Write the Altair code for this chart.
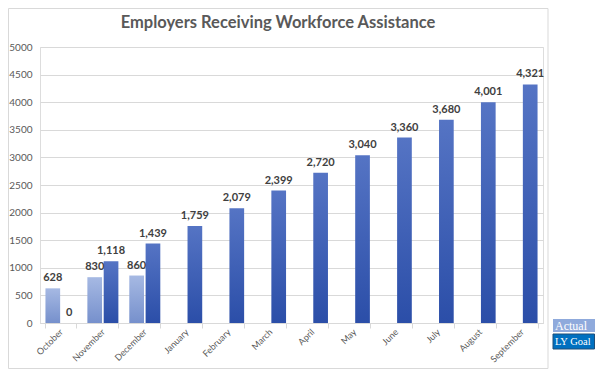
import altair as alt
import pandas as pd

months = ["October", "November", "December", "January", "February", "March",
          "April", "May", "June", "July", "August", "September"]
actual_months = ["October", "November", "December"]
actual_values = [628, 830, 860]
goal_values = [0, 1118, 1439, 1759, 2079, 2399, 2720, 3040, 3360, 3680, 4001, 4321]
series_names = ["Actual", "LY Goal"]
y_ticks = list(range(0, 5001, 500))
title_text = "Employers Receiving Workforce Assistance"

actual_df = pd.DataFrame({"month": actual_months, "value": actual_values, "series": "Actual"})
goal_df = pd.DataFrame({"month": months, "value": goal_values, "series": "LY Goal"})
one_df = pd.DataFrame({"k": [0]})

FONT = "Lato"
GRAY = "#595959"

x_enc = alt.X(
    "month:N", sort=months,
    scale=alt.Scale(domain=months, paddingInner=0.26, paddingOuter=0.13),
    axis=alt.Axis(title=None, labelAngle=-45, labelAlign="right", labelBaseline="middle",
                  labelFontSize=9, labelColor=GRAY, labelFont=FONT, labelPadding=2,
                  domainColor="#d9d9d9", tickColor="#d9d9d9", tickSize=5,
                  tickBand="extent", grid=False),
)
xo_enc = alt.XOffset("series:N", scale=alt.Scale(domain=series_names, paddingInner=0.1))
y_enc = alt.Y(
    "value:Q", scale=alt.Scale(domain=[0, 5000], nice=False),
    axis=alt.Axis(title=None, values=y_ticks, format="d", grid=True, gridColor="#d9d9d9",
                  domain=False, ticks=False, labelPadding=8, labelFontSize=10,
                  labelColor=GRAY, labelFont=FONT),
)

def grad(top, bottom):
    return alt.Gradient(gradient="linear",
                        stops=[alt.GradientStop(color=top, offset=0),
                               alt.GradientStop(color=bottom, offset=1)],
                        x1=0, x2=0, y1=0, y2=1)

border = alt.Chart(one_df).mark_rect(fill=None, stroke="#d9d9d9", strokeWidth=1).encode(
    x=alt.value(-31.5), x2=alt.value(508), y=alt.value(-38.5), y2=alt.value(321.5))

title = alt.Chart(pd.DataFrame({"t": [title_text]})).mark_text(
    font=FONT, fontSize=16.5, fontWeight="bold", color=GRAY, align="center",
    baseline="alphabetic").encode(x=alt.value(238), y=alt.value(-19), text="t:N")

actual_bars = alt.Chart(actual_df).mark_bar(color=grad("#a6b9e3", "#7690cc")).encode(
    x=x_enc, xOffset=xo_enc, y=y_enc)
goal_bars = alt.Chart(goal_df).mark_bar(color=grad("#5574c4", "#2b4ea8")).encode(
    x=x_enc, xOffset=xo_enc, y=y_enc)

lbl = dict(font=FONT, fontSize=11, fontWeight="bold", color="#404040",
           baseline="bottom", dy=-5)
actual_labels = alt.Chart(actual_df).mark_text(**lbl).encode(
    x=x_enc, xOffset=xo_enc, y=y_enc, text=alt.Text("value:Q", format=",d"))
goal_labels = alt.Chart(goal_df).mark_text(**lbl).encode(
    x=x_enc, xOffset=xo_enc, y=y_enc, text=alt.Text("value:Q", format=",d"))

leg_actual_box = alt.Chart(one_df).mark_rect(fill="#8faadc").encode(
    x=alt.value(513), x2=alt.value(555), y=alt.value(272), y2=alt.value(285))
leg_goal_box = alt.Chart(one_df).mark_rect(fill="#0070c0", stroke="#1f4e79", strokeWidth=1).encode(
    x=alt.value(513), x2=alt.value(554.5), y=alt.value(287), y2=alt.value(302))
leg_actual_txt = alt.Chart(pd.DataFrame({"t": [series_names[0]]})).mark_text(
    font="Liberation Serif", fontSize=12, color="white", align="left", baseline="middle").encode(
    x=alt.value(515), y=alt.value(278.5), text="t:N")
leg_goal_txt = alt.Chart(pd.DataFrame({"t": [series_names[1]]})).mark_text(
    font="Liberation Serif", fontSize=10.5, color="white", align="left", baseline="middle").encode(
    x=alt.value(515), y=alt.value(294.5), text="t:N")

chart = alt.layer(
    border, title, actual_bars, goal_bars, actual_labels, goal_labels,
    leg_actual_box, leg_goal_box, leg_actual_txt, leg_goal_txt,
).properties(
    width=503, height=276,
    autosize=alt.AutoSizeParams(type="none"),
    padding={"left": 32, "top": 39, "right": 52, "bottom": 47},
).configure_view(stroke=None).configure(background="white")

chart.save("out.html", embed_options={"renderer": "svg", "actions": False})
